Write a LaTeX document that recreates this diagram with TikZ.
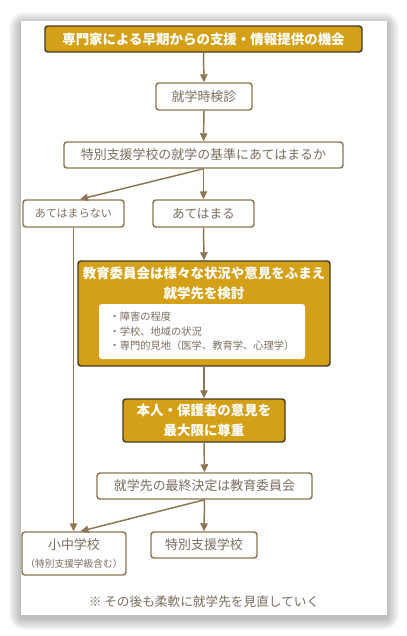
\documentclass[tikz,border=0pt]{standalone}
\usepackage{fontspec}
\setmainfont{Noto Sans CJK JP}
\usepackage{xcolor}
\definecolor{flgold}{RGB}{212,160,23}
\definecolor{flbrown}{RGB}{140,117,83}
\definecolor{fldark}{RGB}{70,58,40}
\definecolor{fltext}{RGB}{122,110,95}
\usetikzlibrary{arrows.meta, positioning, calc}

\begin{document}
\begin{tikzpicture}[x=0.75pt, y=-0.75pt,
  boxsize/.style 2 args={minimum width=#1*0.75pt, minimum height=#2*0.75pt},
  plainbox/.style={draw=flbrown, line width=1.1pt, fill=white, rounded corners=2.2pt,
    inner sep=0pt, text=fltext, font=\fontsize{9.7}{12}\selectfont},
  goldbox/.style={draw=fldark, line width=1.1pt, fill=flgold, rounded corners=2.2pt,
    inner sep=0pt, text=white, font=\fontsize{10.1}{15.5}\selectfont\bfseries, align=center},
  arr/.style={draw=flbrown, line width=1.1pt, -{Triangle[length=6pt,width=5.5pt]}}]
  \useasboundingbox (0,0) rectangle (407,636);

  % Panel with soft shadow
  \foreach \s in {1,...,12}
    \fill[black, opacity=0.025, rounded corners=\s] (21-\s,24-\s) rectangle (387+\s,618+\s);
  \fill[white] (21,21) rectangle (387,615);

  % Top
  \node[goldbox, boxsize={317}{26}] (early) at (203.5,39)
       {専門家による早期からの支援・情報提供の機会};
  \node[plainbox, boxsize={96}{27}] (exam) at (204,96.5) {就学時検診};
  \node[plainbox, boxsize={279}{26}] (criteria) at (203.5,155)
       {特別支援学校の就学の基準にあてはまるか};

  % Branches
  \node[plainbox, boxsize={101}{27}, font=\fontsize{8.3}{10}\selectfont]
       (nomatch) at (73.5,213.5) {あてはまらない};
  \node[plainbox, boxsize={101}{27}, font=\fontsize{9.5}{11}\selectfont]
       (match) at (203.5,213.5) {あてはまる};

  % Review by board
  \node[goldbox, boxsize={252}{105}] (review) at (204,313.5) {};
  \node[font=\fontsize{10.1}{15.5}\selectfont\bfseries, text=white, align=center] (reviewtxt)
       at (204,283.5) {教育委員会は様々な状況や意見をふまえ\\就学先を検討};
  \node[plainbox, draw=none, boxsize={206}{55}, align=left,
        font=\fontsize{7.7}{11}\selectfont] (points) at (202,331.5)
       {・障害の程度\\・学校、地域の状況\\・専門的見地（医学、教育学、心理学）};

  \node[goldbox, boxsize={162}{43}] (respect) at (204,420.5)
       {本人・保護者の意見を\\最大限に尊重};
  \node[plainbox, boxsize={215}{26}] (decide) at (204.5,486)
       {就学先の最終決定は教育委員会};

  % Schools
  \node[plainbox, boxsize={104}{43}, align=center,
        font=\fontsize{9.7}{14}\selectfont] (elem) at (74,553.5)
       {小中学校\\[-1pt]{\fontsize{7.3}{9}\selectfont（特別支援学級含む）}};
  \node[plainbox, boxsize={106}{26}] (special) at (204,545) {特別支援学校};

  \node[text=fltext, font=\fontsize{9.5}{11}\selectfont] (note) at (204,602)
       {※ その後も柔軟に就学先を見直していく};

  % Connectors
  \draw[arr] (early) -- (exam);
  \draw[arr] (exam) -- (criteria);
  \draw[arr] (criteria.south) -- (match.north);
  \draw[arr] (criteria.south) -- ($(nomatch.north)+(6.5,0)$);
  \draw[arr] (match.south) -- (review.north);
  \draw[arr] (review.south) -- (respect.north);
  \draw[arr] (respect.south) -- (decide.north);
  \draw[arr] (nomatch.south) -- (nomatch.south |- elem.north);
  \draw[arr] (decide.south) -- ($(elem.north)+(6.5,0)$);
  \draw[arr] (decide.south) -- (special.north);
\end{tikzpicture}
\end{document}
